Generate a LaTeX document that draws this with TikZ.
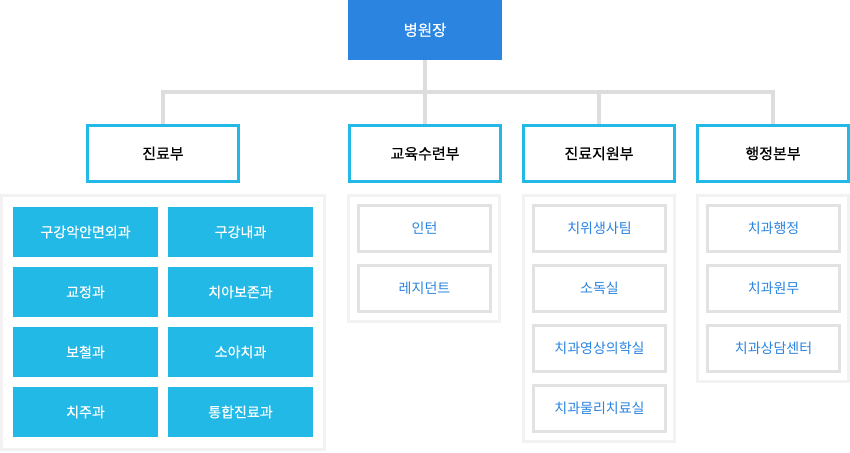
\documentclass[tikz,border=0pt]{standalone}
\usepackage{fontspec}
\setmainfont{Noto Sans CJK KR}
\newfontfamily\medfont{Noto Sans CJK KR}[FakeBold=0.5]
\usepackage{xcolor}
\usetikzlibrary{positioning, backgrounds}

\definecolor{chiefblue}{HTML}{2A84E0}
\definecolor{deptcyan}{HTML}{22B9E6}
\definecolor{linkgrey}{HTML}{DDDDDD}
\definecolor{panelgrey}{HTML}{F2F2F2}
\definecolor{unitgrey}{HTML}{E2E2E2}
\definecolor{unittext}{HTML}{2A84E0}

\tikzset{
  chief/.style={fill=chiefblue, text=white, minimum width=154pt, minimum height=60pt, inner sep=0pt, font=\medfont\fontsize{15.5}{18}\selectfont},
  dept/.style={draw=deptcyan, line width=3pt, fill=white, text=black, minimum width=151pt, minimum height=56pt, inner sep=0pt, font=\medfont\fontsize{15}{18}\selectfont},
  clinic/.style={fill=deptcyan, text=white, minimum width=145pt, minimum height=50pt, inner sep=0pt, font=\medfont\fontsize{14}{17}\selectfont},
  unit/.style={draw=unitgrey, line width=3pt, fill=white, text=unittext, minimum width=132pt, minimum height=46pt, inner sep=0pt, font=\fontsize{14}{17}\selectfont},
  panel/.style={draw=panelgrey, line width=3pt, fill=white},
  link/.style={draw=linkgrey, line width=4pt, line join=miter}
}

\begin{document}
\begin{tikzpicture}[x=1pt, y=-1pt]
    \useasboundingbox (0,0) rectangle (850,452);

    % Draw the head of the hospital
    \node[chief] (chief) at (425,30) {병원장};

    % Draw the four departments
    \node[dept] (dept1) at (163,153.5) {진료부};
    \node[dept] (dept2) at (425,153.5) {교육수련부};
    \node[dept] (dept3) at (599,153.5) {진료지원부};
    \node[dept] (dept4) at (773,153.5) {행정본부};

    % Connect head to departments
    \coordinate (bar) at (425,92);
    \begin{scope}[on background layer]
      \draw[link] (chief) -- (dept2);
      \draw[link] (dept1.north) -- (dept1.north |- bar) -| (dept4.north);
      \draw[link] (dept3.north) -- (dept3.north |- bar);
    \end{scope}

    % Panels under the departments
    \draw[panel] (1.5,195.5) rectangle (324.5,449.5);
    \draw[panel] (348.5,195.5) rectangle (499.5,321.5);
    \draw[panel] (523.5,195.5) rectangle (674.5,441.5);
    \draw[panel] (697.5,195.5) rectangle (848.5,381.5);

    % Clinics of 진료부
    \foreach \name/\lbl [count=\i from 0] in {ca/구강악안면외과, cb/교정과, cc/보철과, cd/치주과} {
      \node[clinic] (\name) at (85.5,232+60*\i) {\lbl};
    }
    \foreach \name/\lbl [count=\i from 0] in {ce/구강내과, cf/치아보존과, cg/소아치과, ch/통합진료과} {
      \node[clinic] (\name) at (240.5,232+60*\i) {\lbl};
    }

    % Units of 교육수련부
    \foreach \name/\lbl [count=\i from 0] in {ea/인턴, eb/레지던트} {
      \node[unit] (\name) at (424.5,228.5+60*\i) {\lbl};
    }

    % Units of 진료지원부
    \foreach \name/\lbl [count=\i from 0] in {sa/치위생사팀, sb/소독실, sc/치과영상의학실, sd/치과물리치료실} {
      \node[unit] (\name) at (599.5,228.5+60*\i) {\lbl};
    }

    % Units of 행정본부
    \foreach \name/\lbl [count=\i from 0] in {aa/치과행정, ab/치과원무, ac/치과상담센터} {
      \node[unit] (\name) at (773.5,228.5+60*\i) {\lbl};
    }

\end{tikzpicture}
\end{document}
